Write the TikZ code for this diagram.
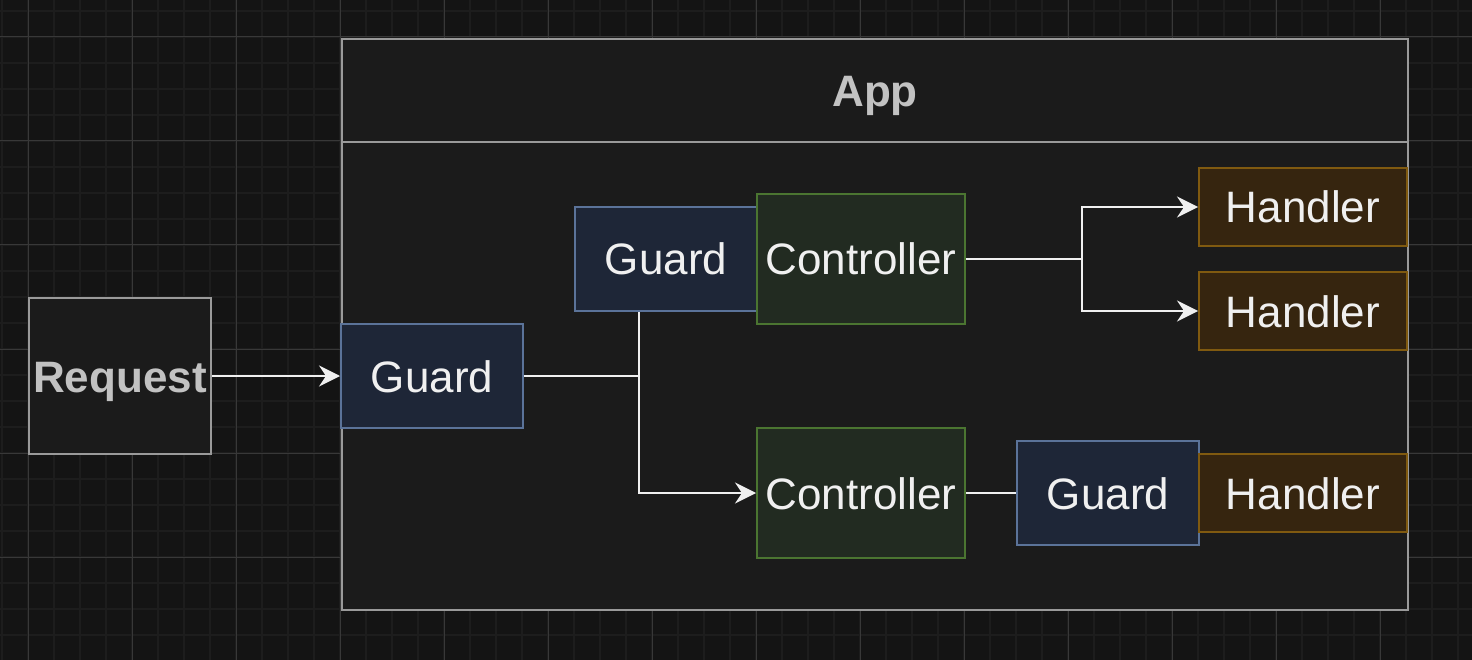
\documentclass[tikz,border=0pt]{standalone}
\usepackage{fontspec}
\setmainfont{Liberation Sans}
\usetikzlibrary{arrows.meta}
\definecolor{bg}{HTML}{141414}
\definecolor{gridminor}{HTML}{1D1D1D}
\definecolor{gridmajor}{HTML}{383838}
\definecolor{panel}{HTML}{1B1B1B}
\definecolor{panelline}{HTML}{9A9A9A}
\definecolor{graytext}{HTML}{C2C2C2}
\definecolor{lighttext}{HTML}{F0F0F0}
\definecolor{guardfill}{HTML}{1E2637}
\definecolor{guardline}{HTML}{5B7399}
\definecolor{ctrlfill}{HTML}{222B21}
\definecolor{ctrlline}{HTML}{4B7531}
\definecolor{handfill}{HTML}{36250F}
\definecolor{handline}{HTML}{805A10}
\definecolor{wire}{HTML}{F0F0F0}
\tikzset{
  px/.style={x=1pt,y=-1pt},
  boxbase/.style={rectangle, inner sep=0pt, line width=2pt, text height=32pt, text depth=0pt, font=\fontsize{44}{48}\selectfont},
  guardbox/.style={boxbase, draw=guardline, fill=guardfill, text=lighttext, minimum width=182pt, minimum height=104pt},
  ctrlbox/.style={boxbase, draw=ctrlline, fill=ctrlfill, text=lighttext, minimum width=208pt, minimum height=130pt},
  handbox/.style={boxbase, draw=handline, fill=handfill, text=lighttext, minimum width=208pt, minimum height=78pt},
  graybox/.style={boxbase, draw=panelline, fill=panel, text=graytext, font=\fontsize{44}{48}\selectfont\bfseries},
  wireline/.style={draw=wire, line width=2pt},
  arrowline/.style={wireline, -{Stealth[length=21pt,width=21pt,inset=7pt]}},
}
\begin{document}
\begin{tikzpicture}[px]
\useasboundingbox (0,0) rectangle (1472,660);
\fill[bg] (0,0) rectangle (1472,660);
% minor grid
\foreach \gx in {2,28,...,1470} \draw[gridminor, line width=2pt] (\gx,0) -- (\gx,660);
\foreach \gy in {11,37,...,660} \draw[gridminor, line width=2pt] (0,\gy) -- (1472,\gy);
% major grid
\foreach \gx in {28,132,...,1470} \draw[gridmajor, line width=1pt] (\gx,0) -- (\gx,660);
\foreach \gy in {37,141,...,660} \draw[gridmajor, line width=1pt] (0,\gy) -- (1472,\gy);

% App container
\node[graybox, minimum width=1066pt, minimum height=571pt, anchor=north west] (app) at (341,38) {};
\node[graybox, minimum width=1066pt, minimum height=103pt, anchor=north west] (apphead) at (341,38) {App};

% Request
\node[graybox, minimum width=182pt, minimum height=156pt] (req) at (120,376) {Request};

% Guards
\node[guardbox] (g1) at (432,376) {Guard};
\node[guardbox] (g2) at (666,259) {Guard};
\node[guardbox] (g3) at (1108,493) {Guard};

% Controllers
\node[ctrlbox] (c1) at (861,259) {Controller};
\node[ctrlbox] (c2) at (861,493) {Controller};

% Handlers
\node[handbox] (h1) at (1303,207) {Handler};
\node[handbox] (h2) at (1303,311) {Handler};
\node[handbox] (h3) at (1303,493) {Handler};

% junction coordinates
\coordinate (j1) at (639,376);
\coordinate (j2) at (1082,259);

% connectors
\draw[arrowline] (req.east) -- (g1.west);
\draw[wireline] (g1.east) -- (j1);
\draw[arrowline] (g2.south -| j1) |- (c2.west);
\draw[wireline] (c1.east) -- (j2);
\draw[arrowline] (j2) |- (h1.west);
\draw[arrowline] (j2) |- (h2.west);
\draw[wireline] (c2.east) -- (g3.west);
\end{tikzpicture}
\end{document}
